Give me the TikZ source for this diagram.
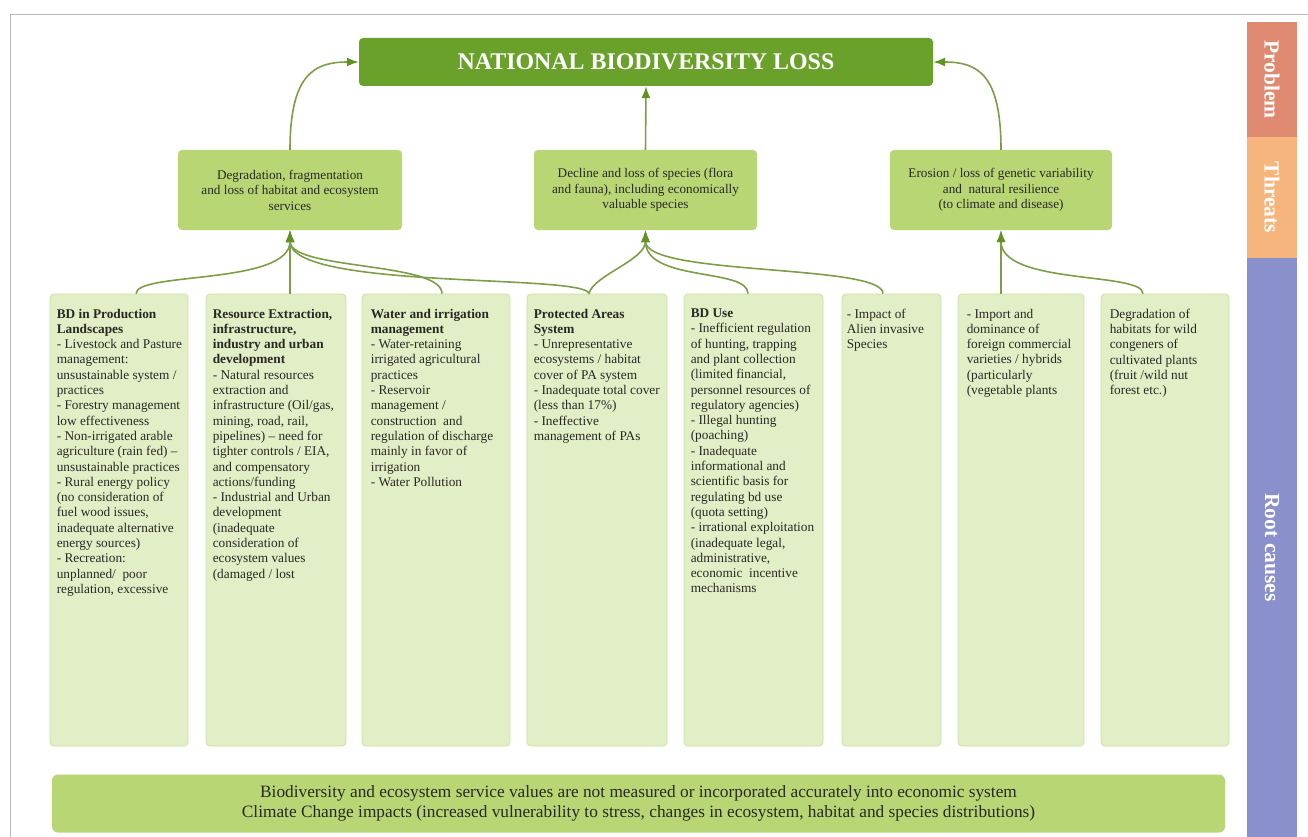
\documentclass[tikz,border=0pt]{standalone}
\usepackage{fontspec}
\setmainfont{Liberation Serif}
\usetikzlibrary{arrows.meta}

\definecolor{dkgreen}{RGB}{106,161,43}
\definecolor{midgreen}{RGB}{185,214,117}
\definecolor{ltgreen}{RGB}{226,238,198}
\definecolor{edgegreen}{RGB}{205,224,160}
\definecolor{linegreen}{RGB}{124,158,70}
\definecolor{tipgreen}{RGB}{96,148,34}
\definecolor{probc}{RGB}{223,138,112}
\definecolor{thrc}{RGB}{246,181,125}
\definecolor{rootc}{RGB}{138,144,204}
\definecolor{txtc}{RGB}{40,40,35}

\begin{document}
\begin{tikzpicture}[x=1pt, y=1pt, >={Latex[length=12pt, width=9pt, color=tipgreen]},
  loss/.style={rounded corners=4pt, fill=dkgreen, text=white, font=\fontsize{23.9}{28}\selectfont\bfseries, minimum width=574, minimum height=48},
  threat/.style={rounded corners=4pt, fill=midgreen, text=txtc, align=center, font=\fontsize{13.2}{15.5}\selectfont, minimum height=80},
  cause/.style={rounded corners=4pt, fill=ltgreen, draw=edgegreen, line width=0.8pt, minimum height=452},
  causetext/.style={anchor=north west, align=left, inner sep=0pt, text=txtc, font=\fontsize{13.3}{15.3}\selectfont},
  side/.style={rotate=-90, text=white, font=\fontsize{21.5}{24}\selectfont\bfseries, minimum height=50},
  link/.style={draw=linegreen, line width=1.6pt, ->}]
\useasboundingbox (0,0) rectangle (1308,-837);
\draw[gray!55, line width=0.8pt] (1308,-14) -- (10,-14) -- (10,-837);

\node (p) [loss] at (646,-62) {NATIONAL BIODIVERSITY LOSS};
\node (t1) [threat, minimum width=224] at (290,-190) {Degradation, fragmentation\\and loss of habitat and ecosystem\\services};
\node (t2) [threat, minimum width=223] at (645.5,-190) {Decline and loss of species (flora\\and fauna), including economically\\valuable species};
\node (t3) [threat, minimum width=222] at (1001,-190) {Erosion / loss of genetic variability\\and\ \ natural resilience\\(to climate and disease)};

\node (r1) [cause, minimum width=138] at (119,-520) {};
\node (r2) [cause, minimum width=140] at (276,-520) {};
\node (r3) [cause, minimum width=148] at (436,-520) {};
\node (r4) [cause, minimum width=140] at (597,-520) {};
\node (r5) [cause, minimum width=139] at (753.5,-520) {};
\node (r6) [cause, minimum width=99] at (891.5,-520) {};
\node (r7) [cause, minimum width=126] at (1021,-520) {};
\node (r8) [cause, minimum width=128] at (1165,-520) {};

\node (r1t) [causetext] at ([shift={(7,-15)}]r1.north west) {\textbf{BD in Production}\\\textbf{Landscapes}\\- Livestock and Pasture\\management:\\unsustainable system /\\practices\\- Forestry management\\low effectiveness\\- Non-irrigated arable\\agriculture (rain fed) --\\unsustainable practices\\- Rural energy policy\\(no consideration of\\fuel wood issues,\\inadequate alternative\\energy sources)\\- Recreation:\\unplanned/\ \ poor\\regulation, excessive};
\node (r2t) [causetext] at ([shift={(7,-15)}]r2.north west) {\textbf{Resource Extraction,}\\\textbf{infrastructure,}\\\textbf{industry and urban}\\\textbf{development}\\- Natural resources\\extraction and\\infrastructure (Oil/gas,\\mining, road, rail,\\pipelines) -- need for\\tighter controls / EIA,\\and compensatory\\actions/funding\\- Industrial and Urban\\development\\(inadequate\\consideration of\\ecosystem values\\(damaged / lost};
\node (r3t) [causetext] at ([shift={(9,-15)}]r3.north west) {\textbf{Water and irrigation}\\\textbf{management}\\- Water-retaining\\irrigated agricultural\\practices\\- Reservoir\\management /\\construction\ \ and\\regulation of discharge\\mainly in favor of\\irrigation\\- Water Pollution};
\node (r4t) [causetext] at ([shift={(7,-15)}]r4.north west) {\textbf{Protected Areas}\\\textbf{System}\\- Unrepresentative\\ecosystems / habitat\\cover of PA system\\- Inadequate total cover\\(less than 17\%)\\- Ineffective\\management of PAs};
\node (r5t) [causetext] at ([shift={(7,-15)}]r5.north west) {\textbf{BD Use}\\- Inefficient regulation\\of hunting, trapping\\and plant collection\\(limited financial,\\personnel resources of\\regulatory agencies)\\- Illegal hunting\\(poaching)\\- Inadequate\\informational and\\scientific basis for\\regulating bd use\\(quota setting)\\- irrational exploitation\\(inadequate legal,\\administrative,\\economic\ \ incentive\\mechanisms};
\node (r6t) [causetext] at ([shift={(5,-15)}]r6.north west) {- Impact of\\Alien invasive\\Species};
\node (r7t) [causetext] at ([shift={(9,-15)}]r7.north west) {- Import and\\dominance of\\foreign commercial\\varieties / hybrids\\(particularly\\(vegetable plants};
\node (r8t) [causetext] at ([shift={(9,-15)}]r8.north west) {Degradation of\\habitats for wild\\congeners of\\cultivated plants\\(fruit /wild nut\\forest etc.)};

\node (b) [rounded corners=6pt, fill=midgreen, minimum width=1173, minimum height=58, align=center, text=txtc, font=\fontsize{17.3}{20}\selectfont] at (638.5,-803.5) {Biodiversity and ecosystem service values are not measured or incorporated accurately into economic system\\Climate Change impacts (increased vulnerability to stress, changes in ecosystem, habitat and species distributions)};

\node (s1) [side, fill=probc, minimum width=115] at (1272,-79.5) {Problem};
\node (s2) [side, fill=thrc, minimum width=121] at (1272,-197.5) {Threats};
\node (s3) [side, fill=rootc, minimum width=579] at (1272,-547.5) {Root causes};

\draw[link] (t1.north) .. controls +(0,75) and +(-45,0) .. (p.west);
\draw[link] (t2.north) -- (p.south);
\draw[link] (t3.north) .. controls +(0,75) and +(45,0) .. (p.east);

\draw[link] ([xshift=17]r1.north) .. controls +(0,22) and +(0,-55) .. (t1.south);
\draw[link] (r2.north -| t1.south) -- (t1.south);
\draw[link] ([xshift=6]r3.north) .. controls +(0,32) and +(0,-40) .. (t1.south);
\draw[link] ([xshift=-8]r4.north) .. controls +(-4,20) and +(0,-60) .. (t1.south);
\draw[link] ([xshift=-8]r4.north) .. controls +(4,18) and +(0,-30) .. (t2.south);
\draw[link] ([xshift=-5.5]r5.north) .. controls +(0,26) and +(0,-52) .. (t2.south);
\draw[link] ([xshift=-8.5]r6.north) .. controls +(0,30) and +(0,-46) .. (t2.south);
\draw[link] (r7.north -| t3.south) -- (t3.south);
\draw[link] ([xshift=-22]r8.north) .. controls +(0,22) and +(0,-55) .. (t3.south);
\end{tikzpicture}
\end{document}
